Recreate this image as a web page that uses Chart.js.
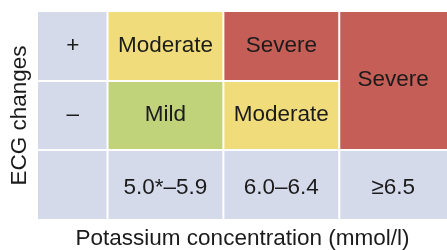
<!DOCTYPE html>
<html>
<head>
<meta charset="utf-8">
<script src="https://cdn.jsdelivr.net/npm/chart.js@4"></script>
<style>
  html, body { margin: 0; padding: 0; background: #fff; }
  #wrap { width: 447px; height: 250px; }
</style>
</head>
<body>
<div id="wrap"><canvas id="grid"></canvas></div>
<script>
// data
const ecgRows = ['+', '–'];
const potassiumBands = ['5.0*–5.9', '6.0–6.4', '≥6.5'];
const withEcgChanges = ['Moderate', 'Severe', 'Severe'];
const withoutEcgChanges = ['Mild', 'Moderate', 'Severe'];

const rowLabels = [...ecgRows, ''];

// colours
const LAVENDER = '#d5daea';
const gradeColor = {
  Mild: '#c0d37a',
  Moderate: '#f0dc7b',
  Severe: '#c45e57'
};

// column edges on the x scale (first column is the header column)
const colEdges = [0, 0.6, 1.6, 2.6, 3.53];

const columns = [null, ...potassiumBands];

const datasets = columns.map((band, c) => {
  const grades = c === 0 ? null : [withEcgChanges[c - 1], withoutEcgChanges[c - 1]];
  const merged = grades !== null && grades[0] === grades[1];
  const texts = c === 0
    ? [...ecgRows, '']
    : [grades[0], grades[1], band];
  const colors = c === 0
    ? rowLabels.map(() => LAVENDER)
    : [gradeColor[grades[0]], gradeColor[grades[1]], LAVENDER];
  return {
    data: rowLabels.map(() => [colEdges[c], colEdges[c + 1]]),
    backgroundColor: colors,
    borderColor: '#ffffff',
    borderWidth: (ctx) => {
      const r = ctx.dataIndex;
      return {
        left: c === 0 ? 0 : 1,
        right: c === columns.length - 1 ? 0 : 1,
        top: r === 0 ? 0 : (merged && r === 1 ? 0 : 1),
        bottom: r === rowLabels.length - 1 ? 0 : (merged && r === 0 ? 0 : 1)
      };
    },
    borderSkipped: false,
    inflateAmount: 0,
    grouped: false,
    barPercentage: 1,
    categoryPercentage: 1,
    texts: texts,
    merged: merged
  };
});

//texte dans les cases
const cellText = {
  id: 'cellText',
  afterDatasetsDraw(chart) {
    const ctx = chart.ctx;
    ctx.save();
    ctx.font = '22.5px "Liberation Sans", Arial, sans-serif';
    ctx.fillStyle = '#1b1b1b';
    ctx.textAlign = 'center';
    ctx.textBaseline = 'middle';
    chart.data.datasets.forEach((ds, i) => {
      const bars = chart.getDatasetMeta(i).data;
      ds.texts.forEach((t, r) => {
        if (!t) return;
        if (ds.merged && r === 1) return;
        const b = bars[r];
        let y = b.y;
        if (ds.merged && r === 0) y = (bars[0].y + bars[1].y) / 2;
        // la derniere ligne est un peu plus bas
        if (r === rowLabels.length - 1) y += 3.5;
        else y -= 1;
        ctx.fillText(t, b.getCenterPoint().x, y);
      });
    });
    ctx.restore();
  }
};

Chart.defaults.font.family = '"Liberation Sans", Arial, sans-serif';
Chart.defaults.color = '#1b1b1b';

const config = {
  type: 'bar',
  data: {
    labels: rowLabels,
    datasets: datasets
  },
  options: {
    indexAxis: 'y',
    responsive: true,
    maintainAspectRatio: false,
    animation: false,
    layout: { padding: { top: 12, left: 0, right: 0, bottom: 0 } },
    plugins: {
      legend: { display: false },
      tooltip: { enabled: false }
    },
    scales: {
      x: {
        type: 'linear',
        min: 0,
        max: colEdges[colEdges.length - 1],
        grid: { display: false, drawTicks: false },
        border: { display: false },
        ticks: { display: false },
        title: {
          display: true,
          text: 'Potassium concentration (mmol/l)',
          font: { size: 22.5, lineHeight: 1 },
          padding: { top: 8.5, bottom: 0 }
        }
      },
      y: {
        grid: { display: false, drawTicks: false },
        border: { display: false },
        ticks: { display: false },
        title: {
          display: true,
          text: 'ECG changes',
          font: { size: 22.5, lineHeight: 1 },
          padding: { top: 9, bottom: 6.5 }
        }
      }
    }
  },
  plugins: [cellText]
};

new Chart(document.getElementById('grid'), config);
</script>
</body>
</html>
